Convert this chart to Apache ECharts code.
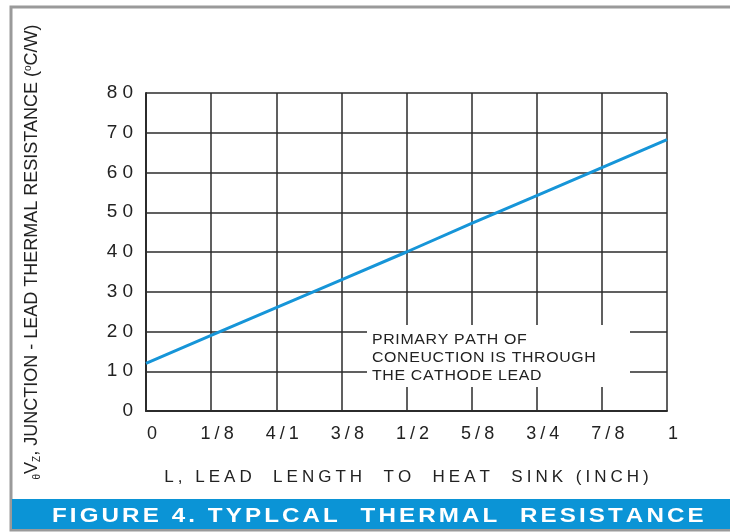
<!DOCTYPE html>
<html>
<head>
    <meta charset="utf-8">
    <title>Thermal Resistance</title>
    <script src="https://cdn.jsdelivr.net/npm/echarts@6/dist/echarts.min.js"></script>
    <style>
        body { margin: 0; background: #fff; }
    </style>
</head>
<body>
    <div id="main" style="width: 730px;height:532px;"></div>
    <script type="text/javascript">
    var myChart = echarts.init(document.getElementById('main'));

    // lead length (inch) tick labels, as printed
    var lengths = ['0', '1/8', '4/1', '3/8', '1/2', '5/8', '3/4', '7/8', '1'];
    // thermal resistance read at each tick (°C/W)
    var resistance = [12, 19, 26, 33, 40, 47.2, 54.2, 61.2, 68.3];
    var noteLines = ['PRIMARY PATH OF', 'CONEUCTION IS THROUGH', 'THE CATHODE LEAD'];

    var font = 'Liberation Sans, Arial, sans-serif';
    var gridColor = '#2b2b2b';

    // canvas text has no letter-spacing, so wrap every char in a rich token with padding
    function spaced(str, key) {
        return str.split('').map(function (c) {
            return '{' + key + '|' + c + '}';
        }).join('');
    }

    option = {
        animation: false,
        grid: {
            left: 146,
            right: 63,
            top: 93,
            bottom: 121
        },
        xAxis: {
            type: 'category',
            boundaryGap: false,
            data: lengths,
            name: spaced('L, LEAD  LENGTH  TO  HEAT  SINK (INCH)', 'n'),
            nameLocation: 'middle',
            nameGap: 58,
            nameTextStyle: {
                fontFamily: font, fontSize: 17, color: '#222',
                rich: { n: { fontFamily: font, fontSize: 17, color: '#222', padding: [0, 2, 0, 2] } }
            },
            axisLine: { lineStyle: { color: gridColor, width: 2 } },
            axisTick: { show: false },
            axisLabel: {
                interval: 0,
                fontFamily: font, fontSize: 18, color: '#222',
                margin: 14, padding: [0, 0, 0, 12],
                formatter: function (v) { return spaced(v, 't'); },
                rich: { t: { fontFamily: font, fontSize: 18, color: '#222', padding: [0, 2, 0, 2] } }
            },
            splitLine: { show: true, interval: 0, lineStyle: { color: gridColor, width: 1.5 } }
        },
        yAxis: {
            type: 'value',
            min: 0,
            max: 80,
            interval: 10,
            name: '{sub|θ}V{sub|Z}, JUNCTION - LEAD THERMAL RESISTANCE ({sup|o}C/W)',
            nameLocation: 'middle',
            nameRotate: 90,
            nameGap: 104,
            nameTextStyle: {
                fontFamily: font, fontSize: 18, color: '#222',
                rich: {
                    sub: { fontFamily: font, fontSize: 10, color: '#222', verticalAlign: 'bottom', padding: [9, 0, 0, 0] },
                    sup: { fontFamily: font, fontSize: 10, color: '#222', verticalAlign: 'top', padding: [0, 0, 9, 0] }
                }
            },
            axisLine: { show: true, lineStyle: { color: gridColor, width: 2 } },
            axisTick: { show: false },
            axisLabel: {
                fontFamily: font, fontSize: 19, color: '#222', margin: 13,
                formatter: function (v) { return spaced(String(v), 'd'); },
                rich: { d: { fontFamily: font, fontSize: 19, color: '#222', padding: [0, 0, 0, 5] } }
            },
            splitLine: { lineStyle: { color: gridColor, width: 1.5 } }
        },
        graphic: [
            {
                type: 'rect',
                shape: { x: 11, y: 7, width: 730, height: 523 },
                style: { fill: 'none', stroke: '#9a9a9a', lineWidth: 3 },
                z: 1
            },
            {
                type: 'rect',
                shape: { x: 367, y: 325, width: 263, height: 62 },
                style: { fill: '#fff' },
                z: 50
            },
            {
                type: 'text',
                x: 372,
                y: 331,
                scaleX: 1.06,
                z: 51,
                style: {
                    text: noteLines.map(function (l) { return spaced(l, 'c'); }).join('\n'),
                    font: '15px ' + font,
                    fill: '#222',
                    lineHeight: 18,
                    verticalAlign: 'top',
                    rich: { c: { fontFamily: font, fontSize: 15, fill: '#222', lineHeight: 18, padding: [0, 0.6, 0, 0] } }
                }
            },
            {
                type: 'rect',
                shape: { x: 12, y: 499, width: 720, height: 30 },
                style: { fill: '#0b94d6' },
                z: 50
            },
            {
                type: 'text',
                x: 52,
                y: 506,
                scaleX: 1.15,
                z: 51,
                style: {
                    text: spaced('FIGURE 4. TYPLCAL  THERMAL  RESISTANCE', 'b'),
                    font: 'bold 21px ' + font,
                    fill: '#fff',
                    verticalAlign: 'top',
                    rich: { b: { fontFamily: font, fontWeight: 'bold', fontSize: 21, fill: '#fff', padding: [0, 2.7, 0, 0] } }
                }
            }
        ],
        series: [{
            type: 'line',
            data: resistance,
            showSymbol: false,
            lineStyle: { color: '#1695d8', width: 3 },
            z: 10
        }]
    };

    myChart.setOption(option);
    </script>
</body>
</html>
